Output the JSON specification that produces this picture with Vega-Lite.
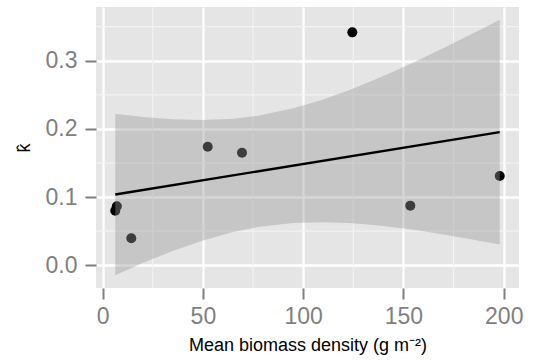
{
  "$schema": "https://vega.github.io/schema/vega-lite/v6.json",
  "width": 423,
  "height": 281,
  "autosize": {"type": "none"},
  "padding": {"left": 96, "top": 7, "right": 15, "bottom": 72},
  "background": "white",
  "config": {
    "view": {"fill": "#e5e5e5", "stroke": null},
    "font": "Liberation Sans",
    "axis": {
      "domain": false,
      "grid": true,
      "gridColor": "#ffffff",
      "gridWidth": 2.3,
      "tickColor": "#7f7f7f",
      "tickWidth": 2,
      "tickSize": 11,
      "labelColor": "#7f7f7f",
      "labelFont": "Liberation Sans",
      "labelFontSize": 23,
      "titleFont": "Liberation Sans",
      "titleFontSize": 18,
      "titleFontWeight": "normal",
      "titleColor": "#000000"
    }
  },
  "datasets": {
    "points": [
      {"density": 6.3, "k": 0.080},
      {"density": 7.1, "k": 0.0865},
      {"density": 14.3, "k": 0.0396},
      {"density": 52.4, "k": 0.174},
      {"density": 69.5, "k": 0.165},
      {"density": 124.5, "k": 0.3417},
      {"density": 153.4, "k": 0.0875},
      {"density": 198.0, "k": 0.131}
    ],
    "band": [
      {"density": 6.3, "lo": -0.0146, "hi": 0.2224},
      {"density": 20, "lo": 0.0032, "hi": 0.2176},
      {"density": 35, "lo": 0.0211, "hi": 0.2141},
      {"density": 50, "lo": 0.0364, "hi": 0.2130},
      {"density": 65, "lo": 0.0488, "hi": 0.2149},
      {"density": 78.2, "lo": 0.0566, "hi": 0.2197},
      {"density": 95, "lo": 0.0622, "hi": 0.2302},
      {"density": 110, "lo": 0.0633, "hi": 0.2433},
      {"density": 125, "lo": 0.0616, "hi": 0.2594},
      {"density": 140, "lo": 0.0575, "hi": 0.2777},
      {"density": 155, "lo": 0.0520, "hi": 0.2976},
      {"density": 170, "lo": 0.0452, "hi": 0.3188},
      {"density": 185, "lo": 0.0375, "hi": 0.3407},
      {"density": 198, "lo": 0.0304, "hi": 0.3602}
    ],
    "minor_x": [{"v": 25}, {"v": 75}, {"v": 125}, {"v": 175}],
    "minor_y": [{"v": 0.05}, {"v": 0.15}, {"v": 0.25}, {"v": 0.35}]
  },
  "layer": [
    {
      "data": {"name": "minor_x"},
      "mark": {"type": "rule", "color": "#f2f2f2", "strokeWidth": 1.2},
      "encoding": {"x": {"field": "v", "type": "quantitative"}}
    },
    {
      "data": {"name": "minor_y"},
      "mark": {"type": "rule", "color": "#f2f2f2", "strokeWidth": 1.2},
      "encoding": {"y": {"field": "v", "type": "quantitative"}}
    },
    {
      "data": {"name": "points"},
      "mark": {"type": "point", "filled": true, "shape": "circle", "color": "#000000", "opacity": 1, "size": 100},
      "encoding": {
        "x": {
          "field": "density", "type": "quantitative",
          "scale": {"domain": [-3.3, 207.6], "nice": false, "zero": false},
          "axis": {"values": [0, 50, 100, 150, 200], "title": "Mean biomass density (g m⁻²)", "labelPadding": 6, "titlePadding": 8, "labelFlush": false}
        },
        "y": {
          "field": "k", "type": "quantitative",
          "scale": {"domain": [-0.0333, 0.3789], "nice": false, "zero": false},
          "axis": {"values": [0, 0.1, 0.2, 0.3], "format": ".1f", "title": "k̂", "labelPadding": 8, "titlePadding": 12, "labelFlush": false}
        }
      }
    },
    {
      "data": {"name": "band"},
      "mark": {"type": "area", "color": "#999999", "opacity": 0.4},
      "encoding": {
        "x": {"field": "density", "type": "quantitative"},
        "y": {"field": "hi", "type": "quantitative"},
        "y2": {"field": "lo"}
      }
    },
    {
      "data": {"name": "points"},
      "transform": [{"regression": "k", "on": "density"}],
      "mark": {"type": "line", "color": "#000000", "strokeWidth": 2.3},
      "encoding": {
        "x": {"field": "density", "type": "quantitative"},
        "y": {"field": "k", "type": "quantitative"}
      }
    }
  ]
}
